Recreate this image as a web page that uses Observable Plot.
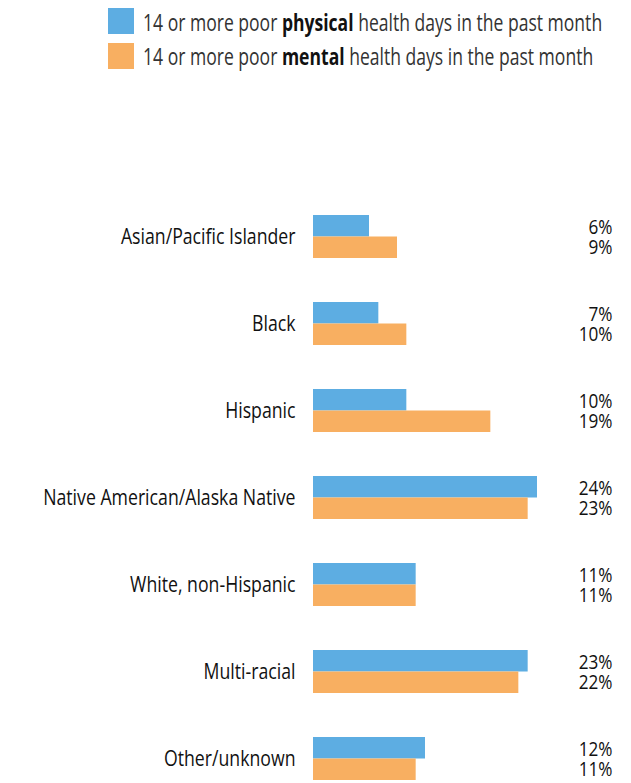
<!DOCTYPE html>
<html>
<head>
<meta charset="utf-8">
<script src="https://cdn.jsdelivr.net/npm/d3@7"></script>
<script src="https://cdn.jsdelivr.net/npm/@observablehq/plot@0.6"></script>
<style>
  html, body { margin: 0; padding: 0; background: #fff; }
  body { width: 631px; height: 783px; position: relative; overflow: hidden; font-family: "Open Sans", sans-serif; }
  #legend { position: absolute; left: 0; top: 0; width: 631px; }
  .sw { position: absolute; left: 108px; width: 26px; height: 26px; }
  .lab { position: absolute; left: 143px; font-size: 23px; line-height: 23px; color: #333; white-space: nowrap;
         transform: scaleX(0.763); transform-origin: 0 0; }
  .lab b { color: #111; font-weight: 700; }
  #chart { position: absolute; left: 0; top: 0; }
</style>
</head>
<body>
<div id="chart"></div>
<div id="legend"></div>
<script>
const categories = [
  "Asian/Pacific Islander",
  "Black",
  "Hispanic",
  "Native American/Alaska Native",
  "White, non-Hispanic",
  "Multi-racial",
  "Other/unknown"
];
const physical = [6, 7, 10, 24, 11, 23, 12];
const mental = [9, 10, 19, 23, 11, 22, 11];
const series = ["physical", "mental"];
const seriesLabels = ["14 or more poor <b>physical</b> health days in the past month",
                      "14 or more poor <b>mental</b> health days in the past month"];
const colors = ["#5dade2", "#f8af61"];

const physData = categories.map((c, i) => ({category: c, series: "physical", value: physical[i]}));
const mentData = categories.map((c, i) => ({category: c, series: "mental", value: mental[i]}));

const font = '"Open Sans", sans-serif';

const chart = Plot.plot({
  width: 631,
  height: 783,
  marginLeft: 0,
  marginRight: 19,
  marginTop: 0,
  marginBottom: 0,
  style: {fontFamily: font, overflow: "visible", background: "transparent"},
  x: {domain: [0, 30], range: [313, 593], axis: null},
  y: {domain: categories, range: [215, 782], paddingInner: 0.5076, paddingOuter: 0, align: 0, axis: null},
  color: {domain: series, range: colors},
  marks: [
    Plot.barX(physData, {x: "value", y: "category", fill: "series", insetBottom: 21.5}),
    Plot.barX(mentData, {x: "value", y: "category", fill: "series", insetTop: 21.5}),
    Plot.text(categories, {x: () => 0, y: d => d, text: d => d, dx: -18, textAnchor: "end",
      fontSize: 22.4, fill: "#111", lineAnchor: "middle", className: "cat"}),
    Plot.text(physData, {y: "category", text: d => d.value + "%", frameAnchor: "right", textAnchor: "end",
      dy: -9, fontSize: 19.5, fill: "#111", lineAnchor: "middle", className: "val"}),
    Plot.text(mentData, {y: "category", text: d => d.value + "%", frameAnchor: "right", textAnchor: "end",
      dy: 11, fontSize: 19.5, fill: "#111", lineAnchor: "middle", className: "val"})
  ]
});
// condense the lettering horizontally (reference uses a condensed face)
function squeeze(sel, s) {
  d3.select(chart).selectAll(sel).each(function() {
    const t = this.getAttribute("transform") || "";
    this.setAttribute("transform", t + ` scale(${s},1)`);
  });
}
squeeze(".cat text", 0.79);
squeeze(".val text", 0.88);
document.getElementById("chart").appendChild(chart);

const legend = document.getElementById("legend");
const swTops = [8, 43];
const labTops = [11, 45];
series.forEach((s, i) => {
  const sw = document.createElement("div");
  sw.className = "sw";
  sw.style.top = swTops[i] + "px";
  sw.style.background = colors[i];
  legend.appendChild(sw);
  const lab = document.createElement("div");
  lab.className = "lab";
  lab.style.top = labTops[i] + "px";
  lab.innerHTML = seriesLabels[i];
  legend.appendChild(lab);
});
</script>
</body>
</html>
